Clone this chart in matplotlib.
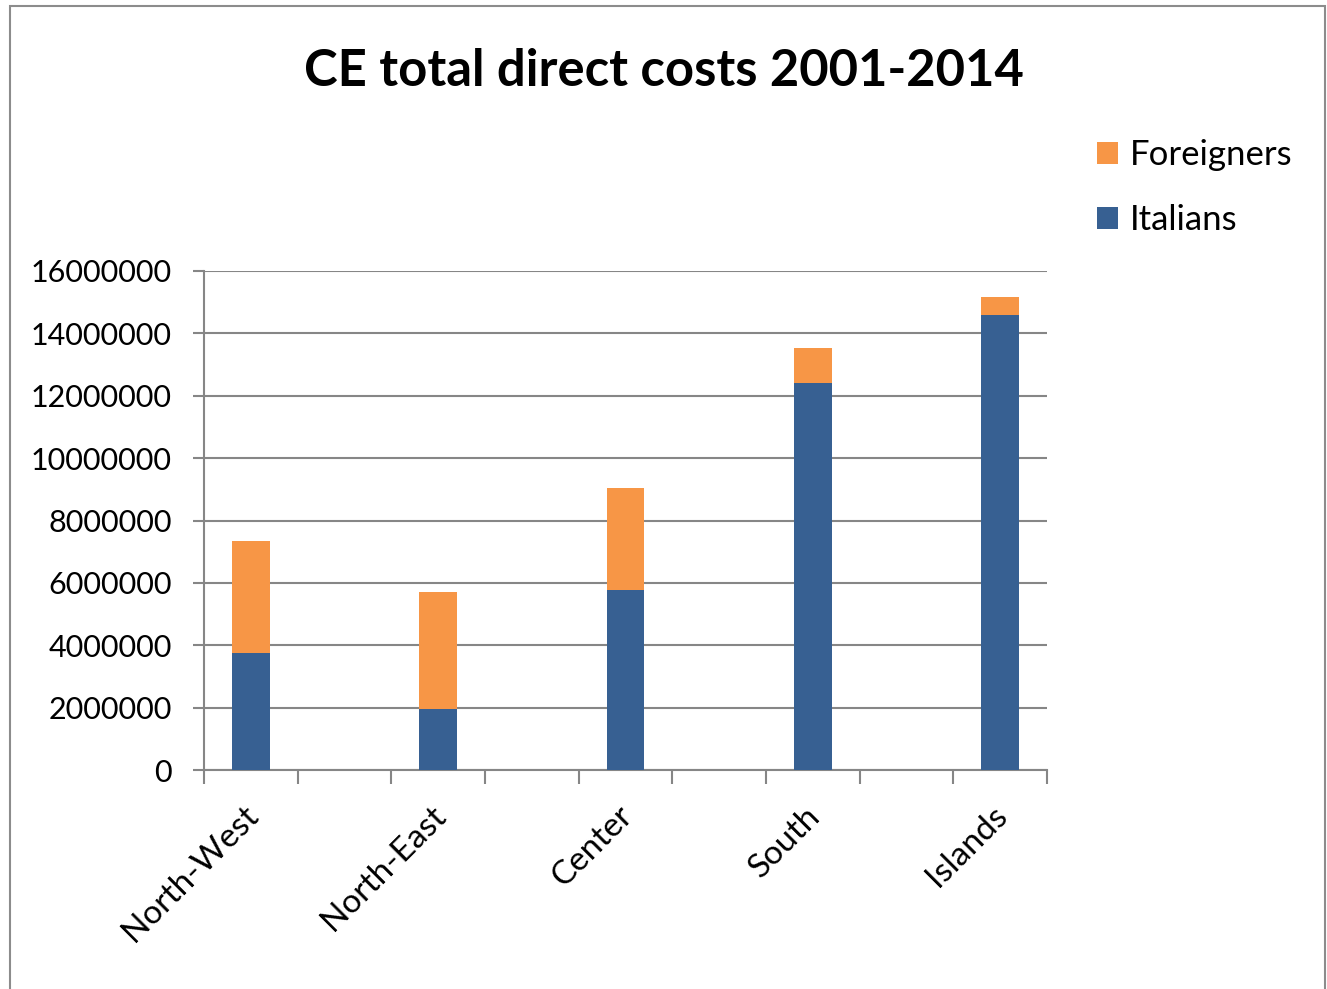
import numpy as np
import matplotlib
matplotlib.use("Agg")
import matplotlib.pyplot as plt
import matplotlib.transforms as mtransforms
from matplotlib.patches import Rectangle

regions = ["North-West", "North-East", "Center", "South", "Islands"]
italians = [3750000, 1950000, 5760000, 12400000, 14580000]
foreigners = [3590000, 3770000, 3280000, 1120000, 580000]

plt.rcParams['font.family'] = ['Lato', 'DejaVu Sans']

fig = plt.figure(figsize=(13.27, 9.89), dpi=100)
ax = fig.add_axes([204 / 1327, 1 - 770 / 989, 843 / 1327, 499 / 989])

# bars sit in every other slot, like the spreadsheet with blank rows
x = np.arange(len(regions)) * 2
ax.bar(x, italians, width=0.4, color='#376092', label='Italians', zorder=3)
ax.bar(x, foreigners, width=0.4, bottom=italians, color='#F79646',
       label='Foreigners', zorder=3)

ax.set_xlim(-0.5, 2 * len(regions) - 1.5)
ax.set_ylim(0, 16000000)
ax.set_yticks(np.arange(0, 16000001, 2000000))
ax.set_yticklabels([str(v) for v in range(0, 16000001, 2000000)], fontsize=22)

ax.set_xticks(x)
ax.set_xticklabels(regions, rotation=45, ha='right', rotation_mode='anchor',
                   fontsize=24)
ax.set_xticks(np.arange(-0.5, 2 * len(regions) - 1, 1), minor=True)
ax.tick_params(axis='x', which='major', length=0, pad=22)
ax.tick_params(axis='x', which='minor', length=10, width=1.5, color='#868686')
ax.tick_params(axis='y', length=8, width=1.5, color='#868686', pad=15)

# nudge the slanted labels a little to the left
shift = mtransforms.ScaledTranslation(-8 / 100, 0, fig.dpi_scale_trans)
for lbl in ax.get_xticklabels():
    lbl.set_transform(lbl.get_transform() + shift)

ax.grid(axis='y', color='#868686', linewidth=1.5, zorder=0)
for s in ['top', 'right']:
    ax.spines[s].set_visible(False)
for s in ['left', 'bottom']:
    ax.spines[s].set_color('#868686')
    ax.spines[s].set_linewidth(1.5)

fig.text(0.5, 1 - 71 / 989, 'CE total direct costs 2001-2014', ha='center',
         va='center', fontsize=36.5, fontweight='bold')

handles, labels = ax.get_legend_handles_labels()
fig.legend(handles[::-1], labels[::-1], loc='upper left',
           bbox_to_anchor=(1066 / 1327, 1 - 108 / 989), frameon=False,
           fontsize=25, handlelength=0.6, handleheight=0.6,
           handletextpad=0.35, labelspacing=0.95)

fig.patches.append(Rectangle((10 / 1327, -0.05), 1315 / 1327, 1.05 - 6 / 989,
                             transform=fig.transFigure, fill=False,
                             edgecolor='#8c8c8c', linewidth=1.5))

fig.savefig('out.png', dpi=100)
